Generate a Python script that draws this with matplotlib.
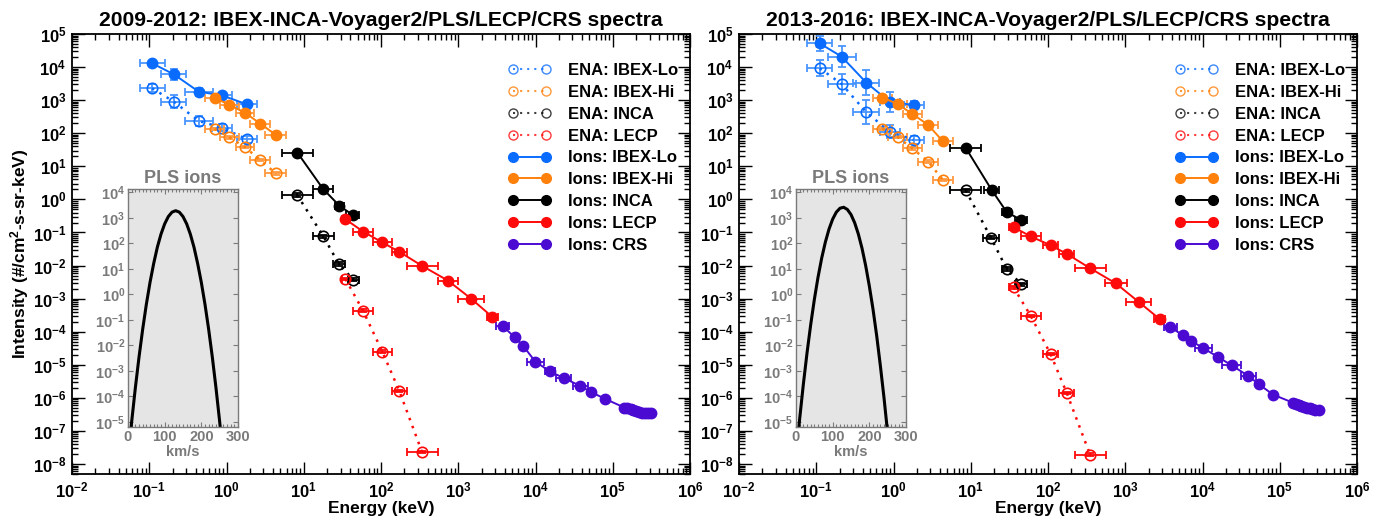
import numpy as np
import matplotlib
matplotlib.use('Agg')
import matplotlib.pyplot as plt
from matplotlib.lines import Line2D
from matplotlib.ticker import LogLocator, FixedLocator, NullFormatter, FuncFormatter, MultipleLocator, NullLocator

plt.rcParams['font.family'] = ['Liberation Sans', 'DejaVu Sans']
plt.rcParams['font.weight'] = 'bold'
plt.rcParams['mathtext.fontset'] = 'custom'
plt.rcParams['mathtext.rm'] = 'Liberation Sans:bold'
plt.rcParams['mathtext.bf'] = 'Liberation Sans:bold'
plt.rcParams['mathtext.it'] = 'Liberation Sans:bold:italic'
plt.rcParams['mathtext.default'] = 'rm'

# ---------------- data: 2009-2012 ----------------
a_ena_lo_E = [0.109, 0.208, 0.438, 0.87, 1.83]
a_ena_lo_I = [2290, 900, 235, 148, 66]
a_ena_lo_dx = [0.16, 0.16, 0.18, 0.13, 0.13]
a_ena_lo_dy = [0.12, 0.20, 0.14, 0.10, 0.11]
a_ion_lo_E = [0.109, 0.208, 0.438, 0.87, 1.83]
a_ion_lo_I = [13000, 6040, 1800, 1400, 750]
a_ion_lo_dy = [0.06, 0.17, 0.12, 0.08, 0.08]
a_ena_hi_E = [0.70, 1.09, 1.73, 2.73, 4.31]
a_ena_hi_I = [135, 76, 38, 15.6, 6.2]
a_ion_hi_E = [0.70, 1.09, 1.73, 2.73, 4.31]
a_ion_hi_I = [1190, 716, 420, 195, 91]
a_hi_dx = [0.12, 0.12, 0.12, 0.13, 0.13]
a_ena_inca_E = [8.2, 18, 28.4, 44]
a_ena_inca_I = [1.37, 0.076, 0.0112, 0.0037]
a_ena_inca_dx = [0.20, 0.13, 0.075, 0.07]
a_ion_inca_E = [8.28, 17.8, 29, 43]
a_ion_inca_I = [25.9, 2.07, 0.64, 0.34]
a_ion_inca_dx = [0.20, 0.125, 0.06, 0.085]
a_ena_lecp_E = [34.7, 58.6, 104, 173, 340]
a_ena_lecp_I = [0.0039, 0.00043, 2.5e-5, 1.6e-6, 2.3e-8]
a_ena_lecp_dx = [0.05, 0.13, 0.12, 0.10, 0.20]
a_ion_lecp_E = [34.7, 58.6, 104, 173, 340, 738, 1465, 2760]
a_ion_lecp_I = [0.25, 0.107, 0.05, 0.026, 0.0098, 0.0035, 0.001, 0.00028]
a_ion_lecp_dx = [0.05, 0.135, 0.12, 0.095, 0.20, 0.135, 0.17, 0.07]
a_crs_E = [3750, 5370, 6950, 9930, 15400, 23100, 38000, 52300, 80000,
           141000, 155000, 170000, 185000, 200000, 220000, 240000, 260000, 285000, 310000]
a_crs_I = [1.5e-4, 6.8e-5, 3.7e-5, 1.25e-5, 6.3e-6, 4.0e-6, 2.3e-6, 1.5e-6, 9.3e-7,
           5.1e-7, 4.8e-7, 4.5e-7, 4.2e-7, 4.0e-7, 3.8e-7, 3.6e-7, 3.5e-7, 3.4e-7, 3.5e-7]
a_crs_dx = [0.085, 0, 0, 0.11, 0.07, 0.10, 0.10, 0, 0, 0, 0, 0, 0, 0, 0, 0, 0, 0, 0]
a_pls_speed = [0, 10, 20, 30, 40, 50, 60, 70, 80, 90, 100, 110, 120, 130, 140, 150, 160,
               170, 180, 190, 200, 210, 220, 230, 240, 250, 260, 270]
a_pls_flux = [3.7e-7, 1.0e-5, 2.1e-4, 3.4e-3, 4.2e-2, 0.40, 2.9, 16, 70, 229, 578, 1120, 1670,
              1900, 1670, 1120, 578, 229, 70, 16, 2.9, 0.40, 4.2e-2, 3.4e-3, 2.1e-4, 1.0e-5, 3.7e-7, 6e-9]

# ---------------- data: 2013-2016 ----------------
b_ena_lo_E = [0.111, 0.213, 0.445, 0.89, 1.82]
b_ena_lo_I = [9200, 3090, 430, 112, 63]
b_ena_lo_dx = [0.16, 0.18, 0.17, 0.13, 0.13]
b_ena_lo_dy = [0.24, 0.30, 0.36, 0.20, 0.13]
b_ion_lo_E = [0.111, 0.213, 0.445, 0.89, 1.82]
b_ion_lo_I = [52000, 20700, 3370, 900, 716]
b_ion_lo_dy = [0.23, 0.32, 0.38, 0.30, 0.13]
b_ena_hi_E = [0.716, 1.13, 1.75, 2.82, 4.35]
b_ena_hi_I = [138, 77, 35, 13.9, 3.9]
b_ion_hi_E = [0.716, 1.13, 1.75, 2.82, 4.35]
b_ion_hi_I = [1200, 767, 383, 178, 57]
b_hi_dx = [0.12, 0.12, 0.12, 0.13, 0.13]
b_ena_inca_E = [8.57, 18.2, 29.3, 45]
b_ena_inca_I = [1.9, 0.07, 0.0078, 0.0027]
b_ena_inca_dx = [0.20, 0.10, 0.06, 0.08]
b_ion_inca_E = [8.57, 18.6, 29.3, 45]
b_ion_inca_I = [36.7, 1.95, 0.41, 0.24]
b_ion_inca_dx = [0.20, 0.10, 0.06, 0.08]
b_ena_lecp_E = [35.8, 59.8, 108, 175, 351]
b_ena_lecp_I = [0.0022, 0.0003, 2.1e-5, 1.4e-6, 1.9e-8]
b_ena_lecp_dx = [0.06, 0.13, 0.10, 0.10, 0.20]
b_ion_lecp_E = [35.8, 59.8, 108, 175, 351, 754, 1500, 2800]
b_ion_lecp_I = [0.145, 0.076, 0.041, 0.0226, 0.0083, 0.0029, 0.00079, 0.00024]
b_ion_lecp_dx = [0.06, 0.13, 0.10, 0.10, 0.20, 0.14, 0.16, 0.07]
b_crs_E = [3850, 5550, 7110, 10200, 15700, 23900, 39300, 53300, 81900,
           147000, 160000, 175000, 190000, 205000, 225000, 245000, 265000, 290000, 319000]
b_crs_I = [1.35e-4, 7.9e-5, 5.3e-5, 3.2e-5, 1.75e-5, 9.6e-6, 4.6e-6, 2.6e-6, 1.26e-6,
           7.2e-7, 6.6e-7, 6.2e-7, 5.8e-7, 5.4e-7, 5.1e-7, 4.8e-7, 4.5e-7, 4.3e-7, 4.3e-7]
b_crs_dx = [0.086, 0, 0, 0.11, 0, 0.12, 0.10, 0, 0, 0, 0, 0, 0, 0, 0, 0, 0, 0, 0]
b_pls_speed = [0, 10, 20, 30, 40, 50, 60, 70, 80, 90, 100, 110, 120, 130, 140, 150, 160,
               170, 180, 190, 200, 210, 220, 230, 240, 250, 260, 270]
b_pls_flux = [4.5e-7, 1.3e-5, 2.9e-4, 4.9e-3, 6.3e-2, 0.62, 4.6, 26, 110, 359, 887, 1670, 2380,
              2590, 2130, 1340, 638, 231, 64, 13.3, 2.1, 0.26, 2.4e-2, 1.6e-3, 8.7e-5, 3.5e-6, 1.1e-7, 2e-9]

titles = ['2009-2012: IBEX-INCA-Voyager2/PLS/LECP/CRS spectra',
          '2013-2016: IBEX-INCA-Voyager2/PLS/LECP/CRS spectra']
legend_labels = ['ENA: IBEX-Lo', 'ENA: IBEX-Hi', 'ENA: INCA', 'ENA: LECP',
                 'Ions: IBEX-Lo', 'Ions: IBEX-Hi', 'Ions: INCA', 'Ions: LECP', 'Ions: CRS']
energy_ticks = [1e-2, 1e-1, 1e0, 1e1, 1e2, 1e3, 1e4, 1e5, 1e6]
intensity_ticks = [1e-8, 1e-7, 1e-6, 1e-5, 1e-4, 1e-3, 1e-2, 1e-1, 1e0, 1e1, 1e2, 1e3, 1e4, 1e5]
inset_speed_ticks = [0, 100, 200, 300]
inset_flux_ticks = [1e-5, 1e-4, 1e-3, 1e-2, 1e-1, 1e0, 1e1, 1e2, 1e3, 1e4]

C_BLUE = '#0a6cff'
C_BLUE_E = '#4a95ff'
C_ORANGE = '#ff800a'
C_ORANGE_E = '#ff9a40'
C_BLACK = '#000000'
C_RED = '#ff0a0a'
C_PURPLE = '#4b0ad2'
GREY = '#7a7a7a'
DOT = (0, (1, 2.4))


def logerr(vals, dec):
    v = np.asarray(vals, float)
    d = np.asarray(dec, float)
    return np.vstack([v - v * 10 ** (-d), v * 10 ** d - v])


def series(ax, E, I, dx, dy, color, ecolor, filled):
    xe = logerr(E, dx)
    ye = logerr(I, dy) if dy is not None else None
    ax.errorbar(E, I, xerr=xe, yerr=ye, fmt='none', ecolor=ecolor, elinewidth=1.3,
                capsize=2.8, capthick=1.3, zorder=2)
    if filled:
        ax.plot(E, I, '-', color=color, lw=1.4, marker='o', ms=7.5, mfc=color, mec=color,
                mew=1.0, zorder=3)
    else:
        ax.plot(E, I, linestyle=DOT, color=color, lw=1.8, marker='o', ms=7.5, mfc='none',
                mec=color, mew=1.2, zorder=3)


def sci(v, p):
    return r'$10^{%d}$' % int(round(np.log10(v)))


fig = plt.figure(figsize=(13.85, 5.23), dpi=100)

panels = [
    dict(left=72, ena_lo=(a_ena_lo_E, a_ena_lo_I, a_ena_lo_dx, a_ena_lo_dy),
         ion_lo=(a_ion_lo_E, a_ion_lo_I, a_ena_lo_dx, a_ion_lo_dy),
         ena_hi=(a_ena_hi_E, a_ena_hi_I, a_hi_dx), ion_hi=(a_ion_hi_E, a_ion_hi_I, a_hi_dx),
         ena_inca=(a_ena_inca_E, a_ena_inca_I, a_ena_inca_dx),
         ion_inca=(a_ion_inca_E, a_ion_inca_I, a_ion_inca_dx),
         ena_lecp=(a_ena_lecp_E, a_ena_lecp_I, a_ena_lecp_dx),
         ion_lecp=(a_ion_lecp_E, a_ion_lecp_I, a_ion_lecp_dx),
         crs=(a_crs_E, a_crs_I, a_crs_dx), pls=(a_pls_speed, a_pls_flux), inset_left=128),
    dict(left=739, ena_lo=(b_ena_lo_E, b_ena_lo_I, b_ena_lo_dx, b_ena_lo_dy),
         ion_lo=(b_ion_lo_E, b_ion_lo_I, b_ena_lo_dx, b_ion_lo_dy),
         ena_hi=(b_ena_hi_E, b_ena_hi_I, b_hi_dx), ion_hi=(b_ion_hi_E, b_ion_hi_I, b_hi_dx),
         ena_inca=(b_ena_inca_E, b_ena_inca_I, b_ena_inca_dx),
         ion_inca=(b_ion_inca_E, b_ion_inca_I, b_ion_inca_dx),
         ena_lecp=(b_ena_lecp_E, b_ena_lecp_I, b_ena_lecp_dx),
         ion_lecp=(b_ion_lecp_E, b_ion_lecp_I, b_ion_lecp_dx),
         crs=(b_crs_E, b_crs_I, b_crs_dx), pls=(b_pls_speed, b_pls_flux), inset_left=796),
]

W, H = 1385.0, 523.0
for k, pn in enumerate(panels):
    ax = fig.add_axes([pn['left'] / W, (H - 474) / H, 618 / W, 440 / H])
    ax.set_xscale('log')
    ax.set_yscale('log')
    ax.set_xlim(1e-2, 1e6)
    ax.set_ylim(5e-9, 1e5)

    E, I, dx, dy = pn['ena_lo']
    series(ax, E, I, dx, dy, C_BLUE, C_BLUE_E, False)
    E, I, dx, dy = pn['ion_lo']
    series(ax, E, I, dx, dy, C_BLUE, C_BLUE_E, True)
    E, I, dx = pn['ena_hi']
    series(ax, E, I, dx, [0.04] * len(E), C_ORANGE, C_ORANGE_E, False)
    E, I, dx = pn['ion_hi']
    series(ax, E, I, dx, None, C_ORANGE, C_ORANGE_E, True)
    E, I, dx = pn['ena_inca']
    series(ax, E, I, dx, [0.05] * len(E), C_BLACK, C_BLACK, False)
    E, I, dx = pn['ion_inca']
    series(ax, E, I, dx, None, C_BLACK, C_BLACK, True)
    E, I, dx = pn['ena_lecp']
    series(ax, E, I, dx, [0.04] * len(E), C_RED, C_RED, False)
    E, I, dx = pn['ion_lecp']
    series(ax, E, I, dx, None, C_RED, C_RED, True)
    E, I, dx = pn['crs']
    series(ax, E, I, dx, None, C_PURPLE, C_PURPLE, True)

    ax.xaxis.set_major_locator(FixedLocator(energy_ticks))
    ax.xaxis.set_minor_locator(LogLocator(base=10, subs=np.arange(2, 10), numticks=20))
    ax.yaxis.set_major_locator(FixedLocator(intensity_ticks))
    ax.yaxis.set_minor_locator(LogLocator(base=10, subs=np.arange(2, 10), numticks=30))
    ax.xaxis.set_major_formatter(FuncFormatter(sci))
    ax.yaxis.set_major_formatter(FuncFormatter(sci))
    ax.xaxis.set_minor_formatter(NullFormatter())
    ax.yaxis.set_minor_formatter(NullFormatter())
    ax.tick_params(which='both', direction='in', top=True, right=True, labelsize=12, width=1.0)
    ax.tick_params(which='major', length=9)
    ax.tick_params(which='minor', length=4.5)
    ax.tick_params(axis='x', pad=5)
    ax.tick_params(axis='y', pad=4)
    for s in ax.spines.values():
        s.set_linewidth(1.3)
    ax.set_title(titles[k], fontsize=15.2, fontweight='bold', pad=6)
    ax.set_xlabel('Energy (keV)', fontsize=12.5, fontweight='bold', labelpad=0)
    if k == 0:
        ax.set_ylabel('Intensity (#/cm$^{2}$-s-sr-keV)', fontsize=12.5, fontweight='bold', labelpad=1)

    handles = [
        Line2D([], [], linestyle=DOT, color=C_BLUE, lw=1.5, marker='o', ms=6.5, mfc='none', mew=1.0, alpha=0.8),
        Line2D([], [], linestyle=DOT, color=C_ORANGE, lw=1.5, marker='o', ms=6.5, mfc='none', mew=1.0, alpha=0.8),
        Line2D([], [], linestyle=DOT, color=C_BLACK, lw=1.5, marker='o', ms=6.5, mfc='none', mew=1.0, alpha=0.75),
        Line2D([], [], linestyle=DOT, color=C_RED, lw=1.5, marker='o', ms=6.5, mfc='none', mew=1.0, alpha=0.8),
        Line2D([], [], color=C_BLUE, lw=1.4, marker='o', ms=7, mfc=C_BLUE, mec=C_BLUE),
        Line2D([], [], color=C_ORANGE, lw=1.4, marker='o', ms=7, mfc=C_ORANGE, mec=C_ORANGE),
        Line2D([], [], color=C_BLACK, lw=1.4, marker='o', ms=7, mfc=C_BLACK, mec=C_BLACK),
        Line2D([], [], color=C_RED, lw=1.4, marker='o', ms=7, mfc=C_RED, mec=C_RED),
        Line2D([], [], color=C_PURPLE, lw=1.4, marker='o', ms=7, mfc=C_PURPLE, mec=C_PURPLE),
    ]
    ax.legend(handles, legend_labels, loc='upper left', bbox_to_anchor=((508 - 72) / 618, (474 - 63) / 440),
              frameon=False, numpoints=2, handlelength=2.6, handletextpad=1.0, labelspacing=0.41,
              borderpad=0, borderaxespad=0, prop=dict(size=12, weight='bold'))

    # inset with PLS ions
    ia = fig.add_axes([pn['inset_left'] / W, (H - 427) / H, 110 / W, 238 / H])
    ia.set_facecolor('#e5e5e5')
    v, f = pn['pls']
    ia.plot(v, f, color='black', lw=2.2)
    ia.set_yscale('log')
    ia.set_xlim(0, 300)
    ia.set_ylim(6.2e-6, 1.35e4)
    ia.xaxis.set_major_locator(FixedLocator(inset_speed_ticks))
    ia.xaxis.set_minor_locator(MultipleLocator(10))
    ia.yaxis.set_major_locator(FixedLocator(inset_flux_ticks))
    ia.yaxis.set_minor_locator(NullLocator())
    ia.yaxis.set_major_formatter(FuncFormatter(sci))
    ia.tick_params(which='both', direction='in', top=True, right=True, colors=GREY,
                   labelsize=10.5, width=0.8)
    ia.tick_params(which='major', length=3.5, pad=2)
    ia.tick_params(which='minor', length=2)
    for s in ia.spines.values():
        s.set_color(GREY)
        s.set_linewidth(1.0)
    ia.set_title('PLS ions', fontsize=13, fontweight='bold', color=GREY, pad=4)
    ia.set_xlabel('km/s', fontsize=10.5, fontweight='bold', color=GREY, labelpad=1)

fig.savefig('out.png', dpi=100)
